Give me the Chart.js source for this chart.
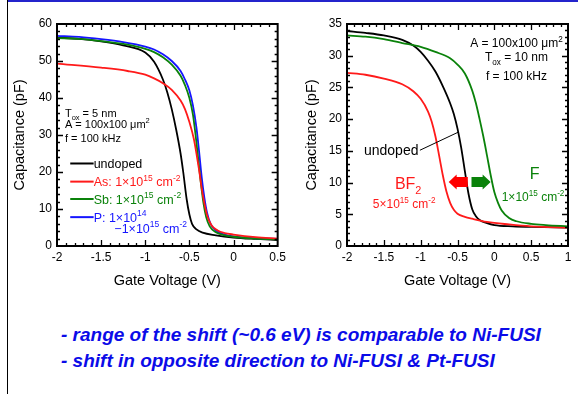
<!DOCTYPE html>
<html>
<head>
<meta charset="utf-8">
<script src="https://cdn.jsdelivr.net/npm/chart.js@4.4.0/dist/chart.umd.min.js"></script>
<style>
html, body { margin: 0; padding: 0; background: #fff; width: 578px; height: 394px; overflow: hidden; position: relative; }
#topline { position: absolute; left: 7px; top: 0; width: 571px; height: 2px; background: #2424cc; }
#leftline { position: absolute; left: 7px; top: 0; width: 1px; height: 394px; background: #000; }
canvas { position: absolute; top: 0; }
#notes { position: absolute; left: 61px; top: 322px; color: #0b0be8; font: italic bold 19px "Liberation Sans", Arial, sans-serif; line-height: 26px; white-space: nowrap; }
</style>
</head>
<body>
<div id="topline"></div>
<div id="leftline"></div>
<canvas id="chart5" width="290" height="290" style="left:0"></canvas>
<canvas id="chart10" width="288" height="290" style="left:290px"></canvas>
<div id="notes">
  - range of the shift (~0.6 eV) is comparable to Ni-FUSI<br>
  - shift in opposite direction to Ni-FUSI &amp; Pt-FUSI
</div>

<script>
// ----------------------
//  DATA
// ----------------------

// tick labels
const xTicks5 = [-2, -1.5, -1, -0.5, 0, 0.5];
const yTicks5 = [0, 10, 20, 30, 40, 50, 60];
const xTicks10 = [-2, -1.5, -1, -0.5, 0, 0.5, 1];
const yTicks10 = [0, 5, 10, 15, 20, 25, 30, 35];

//  LEFT PANEL (Tox = 5 nm)
const undopedV5 = [-2, -1.75, -1.5, -1.25, -1.0, -0.9, -0.8, -0.75, -0.7, -0.65, -0.6, -0.57, -0.53, -0.5, -0.47, -0.42, -0.35, -0.2, 0, 0.25, 0.5];
const undopedC5 = [56.3, 56.0, 55.3, 54.2, 52.3, 49.8, 45.0, 41.5, 37.0, 31.5, 25.0, 20.0, 12.5, 8.5, 6.0, 4.5, 3.6, 2.9, 2.3, 1.9, 1.6];

const asV = [-2, -1.5, -1.2, -1.0, -0.9, -0.8, -0.7, -0.6, -0.55, -0.5, -0.45, -0.42, -0.39, -0.36, -0.33, -0.3, -0.25, -0.18, -0.1, 0, 0.25, 0.5];
const asC = [49.3, 48.2, 47.3, 46.3, 45.3, 44.0, 42.2, 39.3, 37.0, 33.5, 29.0, 25.0, 20.5, 15.5, 11.5, 8.3, 5.6, 4.2, 3.5, 3.1, 2.4, 2.0];

const sbV = [-2, -1.75, -1.5, -1.25, -1.0, -0.9, -0.8, -0.7, -0.6, -0.55, -0.5, -0.46, -0.43, -0.4, -0.37, -0.34, -0.31, -0.27, -0.2, -0.1, 0, 0.25, 0.5];
const sbC = [56.2, 56.0, 55.4, 54.6, 53.3, 52.4, 51.0, 49.0, 46.0, 43.5, 40.0, 35.5, 30.0, 23.5, 17.0, 11.5, 7.8, 5.3, 3.7, 2.9, 2.5, 2.0, 1.8];

const pV = [-2, -1.75, -1.5, -1.25, -1.0, -0.9, -0.8, -0.7, -0.6, -0.55, -0.5, -0.46, -0.42, -0.39, -0.36, -0.33, -0.3, -0.26, -0.2, -0.1, 0, 0.25, 0.5];
const pC = [56.8, 56.5, 55.9, 55.1, 53.9, 53.1, 51.8, 50.0, 47.3, 45.0, 42.0, 38.0, 32.0, 25.5, 18.5, 13.0, 9.0, 6.0, 4.2, 3.1, 2.6, 2.1, 1.9];

//  RIGHT PANEL (Tox = 10 nm)
const undopedV10 = [-2, -1.75, -1.5, -1.25, -1.1, -1.0, -0.9, -0.8, -0.7, -0.6, -0.55, -0.5, -0.45, -0.4, -0.35, -0.3, -0.25, -0.2, -0.1, 0, 0.25, 0.5, 1];
const undopedC10 = [33.9, 33.6, 33.2, 32.5, 31.6, 30.6, 29.2, 27.5, 25.2, 22.5, 20.8, 18.5, 15.5, 11.8, 8.2, 5.8, 4.7, 4.1, 3.6, 3.3, 3.1, 3.0, 2.9];

const bf2V = [-2, -1.75, -1.5, -1.25, -1.1, -1.0, -0.9, -0.85, -0.8, -0.75, -0.7, -0.65, -0.6, -0.55, -0.5, -0.4, -0.3, -0.1, 0.2, 0.5, 1];
const bf2C = [27.3, 27.0, 26.4, 25.5, 24.4, 23.2, 21.2, 19.6, 17.3, 14.3, 11.2, 8.6, 6.8, 5.7, 5.1, 4.6, 4.3, 3.8, 3.4, 3.1, 2.9];

const fV = [-2, -1.75, -1.5, -1.25, -1.0, -0.8, -0.6, -0.5, -0.4, -0.3, -0.25, -0.2, -0.15, -0.1, -0.05, 0, 0.05, 0.1, 0.2, 0.3, 0.5, 0.7, 1];
const fC = [33.2, 33.0, 32.6, 32.0, 31.4, 30.6, 29.6, 28.6, 27.2, 24.5, 22.5, 20.0, 17.3, 14.3, 11.2, 8.5, 6.8, 5.6, 4.4, 3.9, 3.5, 3.3, 3.1];

// ----------------------
//  GENERAL
// ----------------------
const FONT = '"Liberation Sans", Arial, sans-serif';
Chart.defaults.font.family = FONT;
Chart.defaults.color = '#000';

const RED = '#ff1a1a';
const GREEN = '#0a820a';
const BLUE = '#1515ff';

function points(xs, ys) {
    return xs.map((x, i) => ({ x: x, y: ys[i] }));
}

function curve(xs, ys, color) {
    return {
        data: points(xs, ys),
        borderColor: color,
        borderWidth: 1.8,
        pointRadius: 0,
        fill: false,
        cubicInterpolationMode: 'monotone',
    };
}

//  RICH TEXT (super / subscripts)
// parts: [text, kind]  kind 0 = normal, 1 = superscript, -1 = subscript
function richText(ctx, parts, x, y, size, color, align) {
    const small = size * 0.68;
    let total = 0;
    const widths = parts.map(([t, k]) => {
        ctx.font = (k ? small : size) + 'px ' + FONT;
        const w = ctx.measureText(t).width;
        total += w;
        return w;
    });
    let cx = x;
    if (align === 'center') cx = x - total / 2;
    if (align === 'right') cx = x - total;
    ctx.fillStyle = color;
    ctx.textBaseline = 'alphabetic';
    ctx.textAlign = 'left';
    parts.forEach(([t, k], i) => {
        ctx.font = (k ? small : size) + 'px ' + FONT;
        let dy = 0;
        if (k === 1) dy = -size * 0.42;
        if (k === -1) dy = size * 0.3;
        ctx.fillText(t, cx, y + dy);
        cx += widths[i];
    });
}

//  BLOCK ARROW
function blockArrow(ctx, xTail, xTip, yc, color) {
    const dir = xTip > xTail ? 1 : -1;
    const head = 8, hh = 7.5, bh = 5;
    const xNeck = xTip - dir * head;
    ctx.fillStyle = color;
    ctx.beginPath();
    ctx.moveTo(xTail, yc - bh);
    ctx.lineTo(xNeck, yc - bh);
    ctx.lineTo(xNeck, yc - hh);
    ctx.lineTo(xTip, yc);
    ctx.lineTo(xNeck, yc + hh);
    ctx.lineTo(xNeck, yc + bh);
    ctx.lineTo(xTail, yc + bh);
    ctx.closePath();
    ctx.fill();
}

// ----------------------
//  FRAME + INWARD TICKS
// ----------------------
const frameTicks = {
    id: 'frameTicks',
    afterDatasetsDraw(chart, args, opts) {
        const { ctx, chartArea: a, scales: { x, y } } = chart;
        ctx.save();
        ctx.strokeStyle = '#000';
        ctx.lineWidth = 1.3;
        ctx.beginPath();
        const n = Math.round((x.max - x.min) / opts.xMinor);
        for (let i = 1; i < n; i++) {
            const v = x.min + i * opts.xMinor;
            const len = Math.abs(v / opts.xMajor - Math.round(v / opts.xMajor)) < 1e-6 ? 6 : 3;
            const px = Math.round(x.getPixelForValue(v)) + 0.5;
            ctx.moveTo(px, a.bottom); ctx.lineTo(px, a.bottom - len);
            ctx.moveTo(px, a.top); ctx.lineTo(px, a.top + len);
        }
        const m = Math.round((y.max - y.min) / opts.yMinor);
        for (let i = 1; i < m; i++) {
            const v = y.min + i * opts.yMinor;
            const len = Math.abs(v / opts.yMajor - Math.round(v / opts.yMajor)) < 1e-6 ? 6 : 3;
            const py = Math.round(y.getPixelForValue(v)) + 0.5;
            ctx.moveTo(a.left, py); ctx.lineTo(a.left + len, py);
            ctx.moveTo(a.right, py); ctx.lineTo(a.right - len, py);
        }
        ctx.stroke();
        ctx.lineWidth = 2;
        ctx.strokeRect(a.left, a.top, a.right - a.left, a.bottom - a.top);
        ctx.restore();
    }
};

function scales(xMin, xMax, xTicks, yMax, yTicks, yTitlePad) {
    return {
        x: {
            type: 'linear', min: xMin, max: xMax,
            afterBuildTicks: s => { s.ticks = xTicks.map(v => ({ value: v })); },
            afterFit: s => { s.height = 44; },
            ticks: { padding: 4, font: { size: 12 }, maxRotation: 0, autoSkip: false, callback: v => String(v) },
            grid: { display: false, drawTicks: false },
            border: { display: false },
            title: { display: true, text: 'Gate Voltage (V)', font: { size: 14.5 }, padding: { top: 5, bottom: 0 } },
        },
        y: {
            type: 'linear', min: 0, max: yMax,
            afterBuildTicks: s => { s.ticks = yTicks.map(v => ({ value: v })); },
            afterFit: s => { s.width = 57; },
            ticks: { padding: 5, font: { size: 12 }, autoSkip: false, callback: v => String(v) },
            grid: { display: false, drawTicks: false },
            border: { display: false },
            title: { display: true, text: 'Capacitance (pF)', font: { size: 14.5 }, padding: { top: yTitlePad, bottom: 0 } },
        }
    };
}

// ----------------------
//  LEFT CHART NOTES
// ----------------------
const notes5 = {
    id: 'notes5',
    afterDraw(chart) {
        const { ctx, scales: { x, y } } = chart;
        const X = v => x.getPixelForValue(v);
        const Y = v => y.getPixelForValue(v);
        ctx.save();
        richText(ctx, [['T', 0], ['ox', -1], [' = 5 nm', 0]], X(-1.91), Y(34.9), 11, '#000', 'left');
        richText(ctx, [['A = 100x100 \u03bcm', 0], ['2', 1]], X(-1.91), Y(31.9), 11, '#000', 'left');
        richText(ctx, [['f = 100 kHz', 0]], X(-1.91), Y(28.2), 11, '#000', 'left');

        const rows = [
            ['#000', 22.3, [['undoped', 0]]],
            [RED, 17.4, [['As: 1\u00d710', 0], ['15', 1], [' cm', 0], ['-2', 1]]],
            [GREEN, 12.7, [['Sb: 1\u00d710', 0], ['15', 1], [' cm', 0], ['-2', 1]]],
            [BLUE, 7.8, [['P: 1\u00d710', 0], ['14', 1]]],
        ];
        rows.forEach(([col, c, parts]) => {
            ctx.strokeStyle = col;
            ctx.lineWidth = 2;
            ctx.beginPath();
            ctx.moveTo(X(-1.85), Y(c));
            ctx.lineTo(X(-1.585), Y(c));
            ctx.stroke();
            richText(ctx, parts, X(-1.585), Y(c) + 4.5, 12.5, col, 'left');
        });
        richText(ctx, [['\u22121\u00d710', 0], ['15', 1], [' cm', 0], ['-2', 1]], X(-1.35), Y(4.8) + 4.5, 12.5, BLUE, 'left');
        ctx.restore();
    }
};

// ----------------------
//  RIGHT CHART NOTES
// ----------------------
const notes10 = {
    id: 'notes10',
    afterDraw(chart) {
        const { ctx, scales: { x, y } } = chart;
        const X = v => x.getPixelForValue(v);
        const Y = v => y.getPixelForValue(v);
        ctx.save();
        richText(ctx, [['A = 100x100 \u03bcm', 0], ['2', 1]], X(0.30), Y(31.4), 12, '#000', 'center');
        richText(ctx, [['T', 0], ['ox', -1], [' = 10 nm', 0]], X(0.30), Y(29.1), 12, '#000', 'center');
        richText(ctx, [['f = 100 kHz', 0]], X(0.30), Y(26.1), 12, '#000', 'center');

        // undoped + leader line
        richText(ctx, [['undoped', 0]], X(-1.03), Y(14.3), 14, '#000', 'right');
        ctx.strokeStyle = '#000';
        ctx.lineWidth = 1;
        ctx.beginPath();
        ctx.moveTo(X(-1.01), Y(15.1));
        ctx.lineTo(X(-0.48), Y(18.0));
        ctx.stroke();

        richText(ctx, [['BF', 0], ['2', -1]], X(-1.35), Y(9.0), 16, RED, 'left');
        richText(ctx, [['5\u00d710', 0], ['15', 1], [' cm', 0], ['-2', 1]], X(-1.65), Y(6.0), 12, RED, 'left');
        richText(ctx, [['F', 0]], X(0.48), Y(10.5), 16, GREEN, 'left');
        richText(ctx, [['1\u00d710', 0], ['15', 1], [' cm', 0], ['-2', 1]], X(0.10), Y(7.1), 12, GREEN, 'left');

        blockArrow(ctx, X(-0.36), X(-0.62), Y(10.1), '#ff0000');
        blockArrow(ctx, X(-0.31), X(-0.05), Y(10.1), '#0a820a');
        ctx.restore();
    }
};

// ----------------------
//  CHARTS
// ----------------------
new Chart(document.getElementById('chart5'), {
    type: 'line',
    data: {
        datasets: [
            curve(asV, asC, RED),
            curve(sbV, sbC, GREEN),
            curve(pV, pC, BLUE),
            curve(undopedV5, undopedC5, '#000'),
        ]
    },
    options: {
        responsive: false,
        animation: false,
        layout: { padding: { top: 24, right: 11, left: 0, bottom: 0 } },
        plugins: { legend: { display: false }, tooltip: { enabled: false }, frameTicks: { xMinor: 0.1, xMajor: 0.5, yMinor: 2, yMajor: 10 } },
        scales: scales(-2, 0.5, xTicks5, 60, yTicks5, 11.3),
    },
    plugins: [frameTicks, notes5],
});

new Chart(document.getElementById('chart10'), {
    type: 'line',
    data: {
        datasets: [
            curve(fV, fC, GREEN),
            curve(bf2V, bf2C, RED),
            curve(undopedV10, undopedC10, '#000'),
        ]
    },
    options: {
        responsive: false,
        animation: false,
        layout: { padding: { top: 24, right: 10, left: 0, bottom: 0 } },
        plugins: { legend: { display: false }, tooltip: { enabled: false }, frameTicks: { xMinor: 0.1, xMajor: 0.5, yMinor: 1, yMajor: 5 } },
        scales: scales(-2, 1, xTicks10, 35, yTicks10, 13),
    },
    plugins: [frameTicks, notes10],
});
</script>
</body>
</html>
